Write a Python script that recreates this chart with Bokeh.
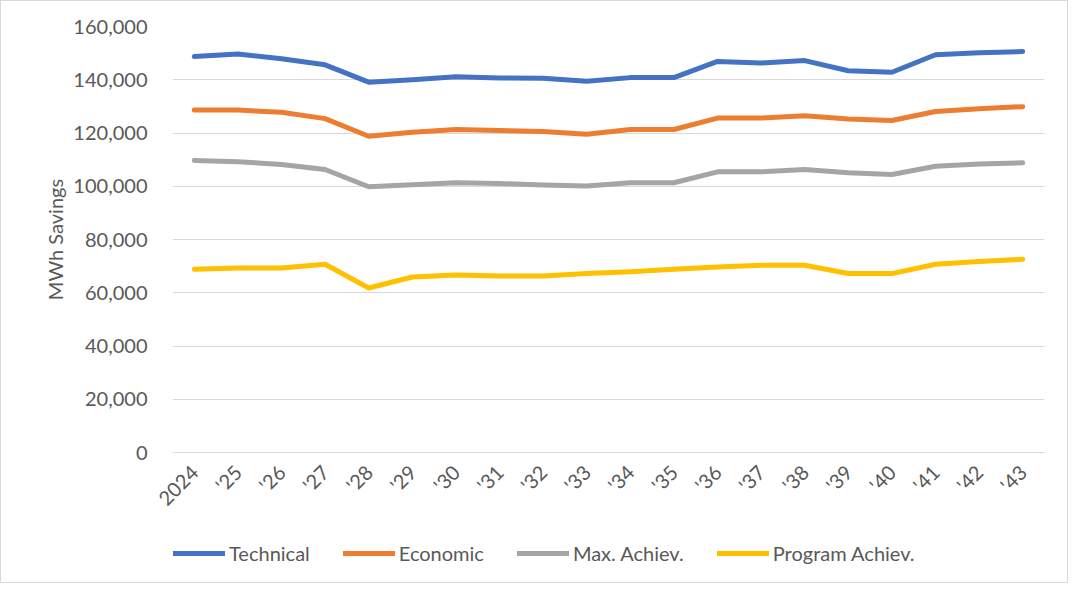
from bokeh.plotting import figure
from bokeh.layouts import column
from bokeh.models import Range1d, FactorRange, Legend, LegendItem, NumeralTickFormatter, FixedTicker
from bokeh.embed import file_html
from bokeh.resources import INLINE
import math

years = ["2024", "'25", "'26", "'27", "'28", "'29", "'30", "'31", "'32", "'33",
         "'34", "'35", "'36", "'37", "'38", "'39", "'40", "'41", "'42", "'43"]
technical = [148700, 149700, 147900, 145600, 139100, 140000, 141100, 140700, 140600, 139400,
             140800, 140800, 146900, 146300, 147200, 143400, 142800, 149400, 150100, 150600]
economic = [128600, 128600, 127800, 125400, 118800, 120300, 121300, 120900, 120600, 119500,
            121300, 121300, 125600, 125600, 126500, 125300, 124700, 128100, 129100, 129900]
max_achiev = [109700, 109200, 108200, 106300, 99800, 100600, 101300, 101000, 100500, 100100,
              101300, 101300, 105400, 105400, 106300, 105100, 104400, 107500, 108400, 108800]
program_achiev = [68800, 69300, 69300, 70700, 61800, 65900, 66700, 66300, 66300, 67200,
                  67900, 68800, 69700, 70300, 70300, 67200, 67200, 70700, 71700, 72600]
series_names = ["Technical", "Economic", "Max. Achiev.", "Program Achiev."]
y_ticks = [0, 20000, 40000, 60000, 80000, 100000, 120000, 140000, 160000]

colors = ["#4472C4", "#ED7D31", "#A5A5A5", "#FFC000"]
FONT = "Lato"
TXT = "#595959"
series = [technical, economic, max_achiev, program_achiev]

p = figure(width=1066, height=520, x_range=FactorRange(*years, range_padding=0),
           y_range=Range1d(0, 160000), output_backend="svg", toolbar_location=None,
           min_border_left=171, min_border_right=23, min_border_top=25, min_border_bottom=68)
p.outline_line_color = None
p.xgrid.grid_line_color = None
p.ygrid.grid_line_color = "#D9D9D9"
p.ygrid.grid_line_width = 1

p.yaxis.ticker = FixedTicker(ticks=y_ticks)
p.yaxis.formatter = NumeralTickFormatter(format="0,0")
p.yaxis.axis_line_color = None
p.yaxis.major_tick_line_color = None
p.yaxis.minor_tick_line_color = None
p.yaxis.major_label_standoff = 19
p.yaxis.axis_label = "MWh Savings"
p.yaxis.axis_label_standoff = 3
p.yaxis.axis_label_text_font = FONT
p.yaxis.axis_label_text_font_style = "normal"
p.yaxis.axis_label_text_font_size = "20px"
p.yaxis.axis_label_text_color = TXT

p.xaxis.axis_line_color = "#D9D9D9"
p.xaxis.major_tick_line_color = None
p.xaxis.minor_tick_line_color = None
p.xaxis.major_label_orientation = math.pi / 4
p.xaxis.major_label_standoff = 10

for ax in (p.xaxis, p.yaxis):
    ax.major_label_text_font = FONT
    ax.major_label_text_font_size = "20px"
    ax.major_label_text_color = TXT

for vals, col in zip(series, colors):
    p.line(years, vals, line_color=col, line_width=5, line_cap="round", line_join="round")

# legend strip below the chart (its own figure, the same series kept outside its view)
pl = figure(width=1066, height=61, x_range=p.x_range, y_range=Range1d(0, 1),
            x_axis_type=None, y_axis_type=None,
            output_backend="svg", toolbar_location=None,
            min_border_left=0, min_border_right=0, min_border_top=0, min_border_bottom=0)
pl.grid.visible = False
pl.outline_line_color = None
items = []
for name, vals, col in zip(series_names, series, colors):
    r = pl.line(years, vals, line_color=col, line_width=5, line_cap="round")
    items.append(LegendItem(label=name, renderers=[r]))

legend = Legend(items=items, orientation="horizontal", location=(1, 17),
                glyph_width=52, glyph_height=20, label_standoff=4, spacing=33,
                label_text_font=FONT, label_text_font_size="20px", label_text_color=TXT,
                border_line_color=None, background_fill_alpha=0, margin=0, padding=0)
pl.add_layout(legend)

layout = column(p, pl, spacing=0)
layout.styles = {"border": "1px solid #D9D9D9"}

open("out.html", "w").write(file_html(layout, INLINE))
